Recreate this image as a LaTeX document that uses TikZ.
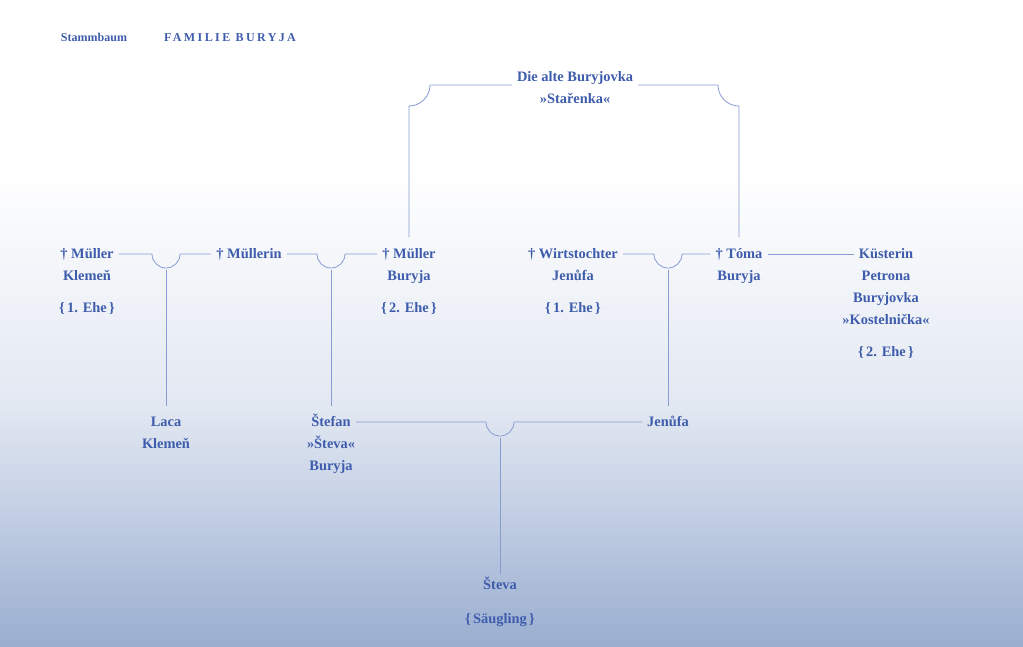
\documentclass[tikz,border=0pt]{standalone}
\usepackage{fontspec}
\setmainfont{Liberation Serif}
\newfontfamily\spaced[LetterSpace=20]{Liberation Serif}
\usetikzlibrary{positioning}
\definecolor{ink}{RGB}{62,92,172}
\definecolor{rule}{RGB}{136,156,212}
\definecolor{mist}{RGB}{226,232,242}
\definecolor{dusk}{RGB}{154,174,208}
\tikzset{
    person/.style = {text=ink, font=\bfseries\fontsize{14.4}{17}\selectfont,
                     inner xsep=5pt, inner ysep=0pt, text height=9.5pt, text depth=0pt},
    title/.style  = {person, font=\bfseries\fontsize{12}{14}\selectfont},
    line/.style   = {draw=rule, line width=0.8pt},
}

\begin{document}
\begin{tikzpicture}[x=1pt, y=1pt, node distance=12pt]
    % background
    \fill[white] (0,0) rectangle (1023,-646);
    \shade[top color=white, bottom color=mist] (0,-170) rectangle (1023,-408);
    \shade[top color=mist, bottom color=dusk] (0,-408) rectangle (1023,-646);

    \node[title] (stb) at (94,-37) {Stammbaum};
    \node[title, font=\bfseries\spaced\fontsize{12}{14}\selectfont] (fam) at (230,-37) {FAMILIE BURYJA};

    % grandmother
    \node[person] (alt) at (575,-77) {Die alte Buryjovka};
    \node[person, below=of alt] (alt2) {»Stařenka«};

    % parents
    \node[person] (mk) at (87,-254) {† Müller};
    \node[person, below=of mk] (mk2) {Klemeň};
    \node[person, below=22pt of mk2] (mk3) {\{\,1. Ehe\,\}};
    \node[person] (mn) at (249,-254) {† Müllerin};
    \node[person] (mb) at (409,-254) {† Müller};
    \node[person, below=of mb] (mb2) {Buryja};
    \node[person, below=22pt of mb2] (mb3) {\{\,2. Ehe\,\}};
    \node[person] (wt) at (573,-254) {† Wirtstochter};
    \node[person, below=of wt] (wt2) {Jenůfa};
    \node[person, below=22pt of wt2] (wt3) {\{\,1. Ehe\,\}};
    \node[person] (tb) at (739,-254) {† Tóma};
    \node[person, below=of tb] (tb2) {Buryja};
    \node[person] (ks) at (886,-254) {Küsterin};
    \node[person, below=of ks] (ks2) {Petrona};
    \node[person, below=of ks2] (ks3) {Buryjovka};
    \node[person, below=of ks3] (ks4) {»Kostelnička«};
    \node[person, below=22.5pt of ks4] (ks5) {\{\,2. Ehe\,\}};

    % children
    \node[person] (lk) at (166,-422) {Laca};
    \node[person, below=of lk] (lk2) {Klemeň};
    \node[person] (st) at (331,-422) {Štefan};
    \node[person, below=of st] (st2) {»Števa«};
    \node[person, below=of st2] (st3) {Buryja};
    \node[person] (je) at (668,-422) {Jenůfa};
    \node[person] (sv) at (500,-585) {Števa};
    \node[person, below=23.5pt of sv] (sv2) {\{\,Säugling\,\}};

    % marriages
    \coordinate (e1) at (166,-254);
    \coordinate (e2) at (331,-254);
    \coordinate (e3) at (668,-254);
    \coordinate (e4) at (500,-422);

    \draw[line] ([yshift=-8pt]alt.west) -- (430,-85) arc[start angle=0, end angle=-90, radius=21pt] -- ([yshift=12pt]mb.north);
    \draw[line] ([yshift=-8pt]alt.east) -- (718,-85) arc[start angle=180, end angle=270, radius=21pt] -- ([yshift=12pt]tb.north);

    \draw[line] (mk.east) -- ([xshift=-14pt]e1) arc[start angle=180, end angle=360, radius=14pt] -- (mn.west);
    \draw[line] (mn.east) -- ([xshift=-14pt]e2) arc[start angle=180, end angle=360, radius=14pt] -- (mb.west);
    \draw[line] (wt.east) -- ([xshift=-14pt]e3) arc[start angle=180, end angle=360, radius=14pt] -- (tb.west);
    \draw[line] (tb.east) -- (ks.west);
    \draw[line] (st.east) -- ([xshift=-14pt]e4) arc[start angle=180, end angle=360, radius=14pt] -- (je.west);

    \draw[line] ([yshift=-16pt]e1) -- ([yshift=11pt]lk.north);
    \draw[line] ([yshift=-16pt]e2) -- ([yshift=11pt]st.north);
    \draw[line] ([yshift=-16pt]e3) -- ([yshift=11pt]je.north);
    \draw[line] ([yshift=-16pt]e4) -- ([yshift=6pt]sv.north);
\end{tikzpicture}
\end{document}
